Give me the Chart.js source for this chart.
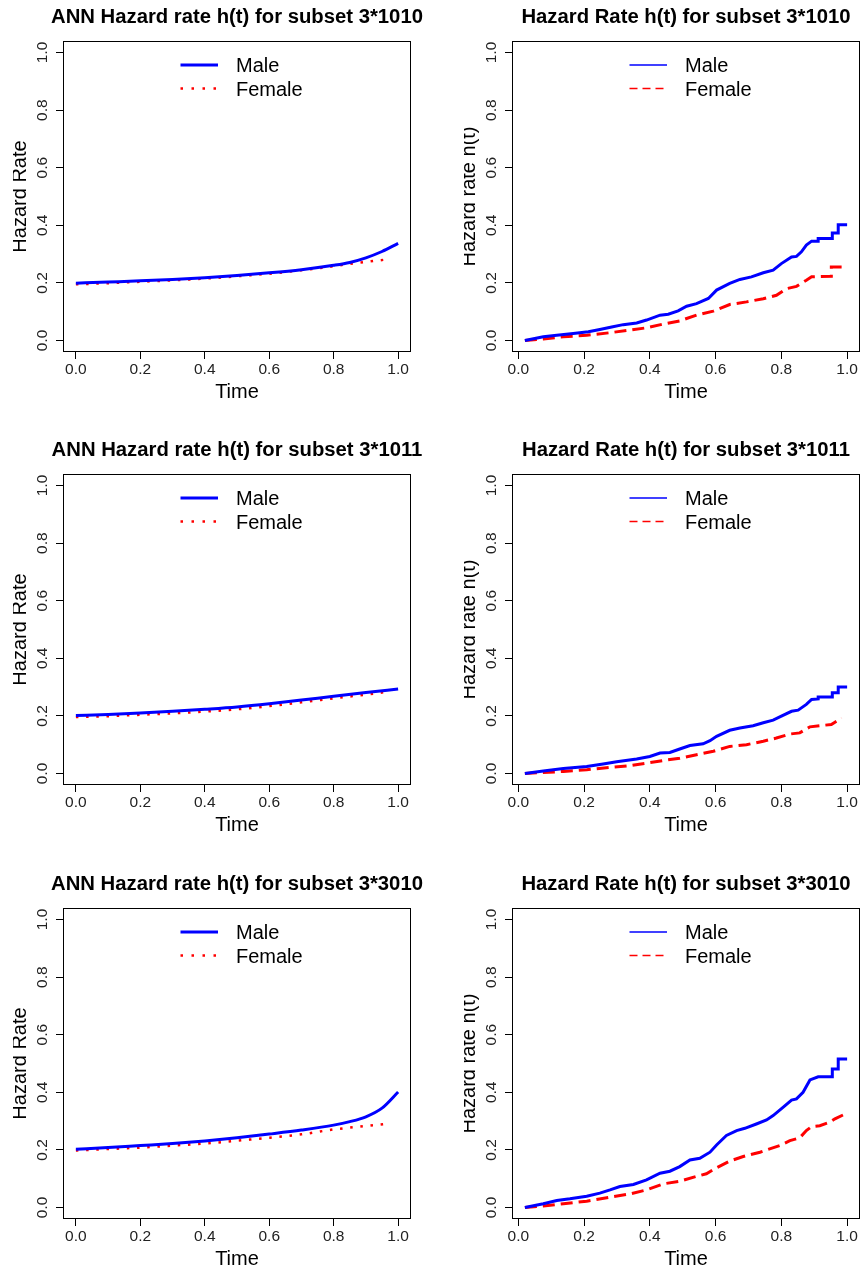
<!DOCTYPE html>
<html>
<head>
<meta charset="utf-8">
<script src="https://cdn.jsdelivr.net/npm/chart.js@4/dist/chart.umd.min.js"></script>
<style>
  html, body { margin: 0; padding: 0; background: #fff; }
  body { width: 861px; height: 1270px; overflow: hidden; position: relative; }
  canvas { position: absolute; }
</style>
</head>
<body>
<canvas id="c1"></canvas>
<canvas id="c2"></canvas>
<canvas id="c3"></canvas>
<canvas id="c4"></canvas>
<canvas id="c5"></canvas>
<canvas id="c6"></canvas>
<script>
// ---------- tick labels ----------
const xTickValues = [0.0, 0.2, 0.4, 0.6, 0.8, 1.0];
const yTickValues = [0.0, 0.2, 0.4, 0.6, 0.8, 1.0];
const seriesNames = ['Male', 'Female'];

// ---------- ANN hazard curves ----------
const ann1010MaleTime   = [0, 0.1, 0.2, 0.3, 0.4, 0.5, 0.6, 0.7, 0.8, 0.85, 0.9, 0.95, 1.0];
const ann1010Male       = [0.199, 0.203, 0.207, 0.212, 0.218, 0.226, 0.235, 0.246, 0.261, 0.271, 0.287, 0.309, 0.337];
const ann1010FemaleTime = [0, 0.1, 0.2, 0.3, 0.4, 0.5, 0.6, 0.7, 0.8, 0.85, 0.9, 0.97];
const ann1010Female     = [0.195, 0.199, 0.204, 0.209, 0.215, 0.223, 0.232, 0.244, 0.258, 0.266, 0.273, 0.282];

const ann1011MaleTime   = [0, 0.1, 0.2, 0.3, 0.4, 0.5, 0.6, 0.7, 0.8, 0.9, 1.0];
const ann1011Male       = [0.201, 0.205, 0.210, 0.216, 0.223, 0.231, 0.242, 0.255, 0.268, 0.281, 0.293];
const ann1011FemaleTime = [0, 0.1, 0.2, 0.3, 0.4, 0.5, 0.6, 0.7, 0.8, 0.9, 0.97];
const ann1011Female     = [0.196, 0.199, 0.204, 0.209, 0.215, 0.223, 0.234, 0.247, 0.261, 0.274, 0.284];

const ann3010MaleTime   = [0, 0.1, 0.2, 0.3, 0.4, 0.5, 0.6, 0.7, 0.8, 0.85, 0.9, 0.95, 1.0];
const ann3010Male       = [0.202, 0.208, 0.215, 0.222, 0.231, 0.242, 0.255, 0.269, 0.286, 0.298, 0.315, 0.345, 0.401];
const ann3010FemaleTime = [0, 0.1, 0.2, 0.3, 0.4, 0.5, 0.6, 0.7, 0.8, 0.9, 0.97];
const ann3010Female     = [0.198, 0.203, 0.208, 0.215, 0.222, 0.232, 0.242, 0.254, 0.271, 0.283, 0.291];

// ---------- empirical hazard (step) curves ----------
const emp1010MaleTime = [0.020,0.076,0.117,0.167,0.213,0.248,0.284,0.319,0.360,0.390,0.431,0.456,0.486,0.512,0.542,0.578,0.603,0.643,0.674,0.709,0.745,0.775,0.800,0.831,0.846,0.861,0.876,0.892,0.912,0.912,0.955,0.955,0.973,0.973,1.000];
const emp1010Male     = [0,0.013,0.018,0.024,0.030,0.038,0.047,0.055,0.061,0.071,0.088,0.091,0.103,0.119,0.128,0.146,0.175,0.198,0.212,0.221,0.235,0.244,0.267,0.290,0.292,0.308,0.331,0.345,0.345,0.354,0.354,0.373,0.373,0.402,0.402];
const emp1010FemaleTime = [0.020,0.076,0.137,0.208,0.279,0.339,0.390,0.441,0.491,0.542,0.593,0.643,0.694,0.745,0.785,0.816,0.846,0.876,0.892,0.952,0.952,1.000];
const emp1010Female     = [0,0.005,0.013,0.018,0.027,0.036,0.044,0.057,0.068,0.088,0.102,0.125,0.134,0.145,0.157,0.180,0.188,0.209,0.221,0.223,0.255,0.255];

const emp1011MaleTime = [0.020,0.076,0.137,0.208,0.258,0.299,0.360,0.400,0.431,0.461,0.491,0.522,0.562,0.583,0.603,0.643,0.674,0.714,0.745,0.775,0.800,0.831,0.851,0.876,0.892,0.912,0.912,0.955,0.955,0.973,0.973,1.000];
const emp1011Male     = [0,0.009,0.017,0.024,0.033,0.041,0.050,0.059,0.071,0.073,0.085,0.097,0.103,0.114,0.129,0.150,0.158,0.166,0.176,0.185,0.199,0.216,0.220,0.240,0.257,0.259,0.266,0.266,0.280,0.280,0.300,0.300];
const emp1011FemaleTime = [0.020,0.137,0.208,0.279,0.339,0.400,0.441,0.491,0.542,0.593,0.643,0.694,0.745,0.785,0.826,0.856,0.887,0.917,0.952,0.963,0.983];
const emp1011Female     = [0,0.007,0.013,0.021,0.027,0.038,0.045,0.053,0.065,0.077,0.094,0.100,0.112,0.123,0.137,0.141,0.162,0.166,0.170,0.178,0.193];

const emp3010MaleTime = [0.020,0.076,0.117,0.157,0.208,0.248,0.279,0.309,0.350,0.390,0.431,0.461,0.491,0.522,0.552,0.583,0.603,0.633,0.664,0.689,0.724,0.755,0.775,0.805,0.831,0.846,0.866,0.887,0.912,0.955,0.955,0.973,0.973,1.000];
const emp3010Male     = [0,0.013,0.024,0.030,0.039,0.050,0.061,0.073,0.080,0.096,0.119,0.126,0.142,0.165,0.171,0.192,0.217,0.250,0.267,0.275,0.290,0.304,0.319,0.348,0.373,0.377,0.400,0.443,0.454,0.454,0.481,0.481,0.516,0.516];
const emp3010FemaleTime = [0.020,0.076,0.137,0.208,0.279,0.339,0.390,0.441,0.491,0.542,0.572,0.603,0.643,0.684,0.735,0.795,0.826,0.856,0.876,0.892,0.917,0.947,0.963,1.000];
const emp3010Female     = [0,0.005,0.013,0.022,0.036,0.047,0.061,0.082,0.091,0.108,0.117,0.138,0.161,0.177,0.192,0.215,0.232,0.242,0.267,0.281,0.284,0.296,0.308,0.328];

// ---------- panel texts ----------
const panelTitles = [
  'ANN Hazard rate h(t) for subset 3*1010', 'Hazard Rate h(t) for subset 3*1010',
  'ANN Hazard rate h(t) for subset 3*1011', 'Hazard Rate h(t) for subset 3*1011',
  'ANN Hazard rate h(t) for subset 3*3010', 'Hazard Rate h(t) for subset 3*3010'
];
const yTitles = ['Hazard Rate', 'Hazard rate h(t)'];
const xTitle = 'Time';

// ---------- helpers ----------
const FONT = "'Liberation Sans', Arial, Helvetica, sans-serif";
Chart.defaults.font.family = FONT;
Chart.defaults.color = '#000';

function pts(t, v) { return t.map((x, i) => ({ x: x, y: v[i] })); }

const BLUE = '#0000FF', RED = '#FF0000';

function annSets(mt, mv, ft, fv) {
  return [
    { label: seriesNames[0], data: pts(mt, mv), borderColor: BLUE, borderWidth: 3,
      cubicInterpolationMode: 'monotone', legendWidth: 3, legendDash: [] },
    { label: seriesNames[1], data: pts(ft, fv), borderColor: RED, borderWidth: 2.5,
      borderDash: [2.5, 7.7], cubicInterpolationMode: 'monotone', legendWidth: 2.5, legendDash: [2.5, 8.5] }
  ];
}
function empSets(mt, mv, ft, fv) {
  return [
    { label: seriesNames[0], data: pts(mt, mv), borderColor: BLUE, borderWidth: 3,
      tension: 0, legendWidth: 1.6, legendDash: [] },
    { label: seriesNames[1], data: pts(ft, fv), borderColor: RED, borderWidth: 3,
      borderDash: [12, 6], tension: 0, legendWidth: 1.6, legendDash: [8, 5] }
  ];
}

const panelSets = [
  annSets(ann1010MaleTime, ann1010Male, ann1010FemaleTime, ann1010Female),
  empSets(emp1010MaleTime, emp1010Male, emp1010FemaleTime, emp1010Female),
  annSets(ann1011MaleTime, ann1011Male, ann1011FemaleTime, ann1011Female),
  empSets(emp1011MaleTime, emp1011Male, emp1011FemaleTime, emp1011Female),
  annSets(ann3010MaleTime, ann3010Male, ann3010FemaleTime, ann3010Female),
  empSets(emp3010MaleTime, emp3010Male, emp3010FemaleTime, emp3010Female)
];

// R-style plot furniture: box, title, axis titles, legend
const furniture = {
  id: 'furniture',
  afterDatasetsDraw(chart, args, o) {
    const ctx = chart.ctx, a = chart.chartArea;
    ctx.save();
    // box
    ctx.strokeStyle = '#000';
    ctx.lineWidth = 1;
    ctx.setLineDash([]);
    ctx.strokeRect(Math.round(a.left) + 0.5, Math.round(a.top) + 0.5,
                   Math.round(a.right - a.left) - 1, Math.round(a.bottom - a.top) - 1);
    const cx = (a.left + a.right) / 2, cy = (a.top + a.bottom) / 2;
    ctx.fillStyle = '#000';
    // main title
    ctx.font = 'bold 20.3px ' + FONT;
    ctx.textAlign = 'center';
    ctx.textBaseline = 'alphabetic';
    ctx.fillText(o.title, cx, a.top - 18);
    // x title
    ctx.font = '20px ' + FONT;
    ctx.fillText(xTitle, cx, a.bottom + 46);
    // y title
    ctx.save();
    ctx.translate(a.left - 37, cy);
    ctx.rotate(-Math.PI / 2);
    ctx.fillText(o.yTitle, 0, 0);
    ctx.restore();
    // legend
    chart.data.datasets.forEach((ds, i) => {
      const ly = a.top + 24 + i * 23.5;
      ctx.beginPath();
      ctx.strokeStyle = ds.borderColor;
      ctx.lineWidth = ds.legendWidth;
      ctx.setLineDash(ds.legendDash);
      ctx.moveTo(a.left + 117.5, ly);
      ctx.lineTo(a.left + 155, ly);
      ctx.stroke();
      ctx.setLineDash([]);
      ctx.font = '20px ' + FONT;
      ctx.textAlign = 'left';
      ctx.fillStyle = '#000';
      ctx.fillText(ds.label, a.left + 173, a.top + 30.7 + i * 24.3);
    });
    ctx.restore();
  }
};

const rowTops = [0, 433, 867];
const CANVAS_H = 433;

for (let p = 0; p < 6; p++) {
  const row = Math.floor(p / 2), col = p % 2;
  const canvas = document.getElementById('c' + (p + 1));
  const left = col === 0 ? 13 : 464;
  const width = col === 0 ? 417 : 397;
  canvas.width = width; canvas.height = CANVAS_H;
  canvas.style.left = left + 'px';
  canvas.style.top = rowTops[row] + 'px';
  canvas.style.width = width + 'px';
  canvas.style.height = CANVAS_H + 'px';

  const xr = col === 0 ? { min: -0.04, max: 1.04 } : { min: -0.0192, max: 1.0392 };
  const padL = col === 0 ? 10 : 8;
  const padR = col === 0 ? 19 : 1;

  new Chart(canvas, {
    type: 'line',
    data: { datasets: panelSets[p] },
    options: {
      responsive: false,
      animation: false,
      devicePixelRatio: 1,
      layout: { padding: { left: padL, right: padR, top: 41, bottom: 41 } },
      elements: { point: { radius: 0, hoverRadius: 0 }, line: { fill: false, borderCapStyle: 'butt' } },
      plugins: {
        legend: { display: false },
        tooltip: { enabled: false },
        furniture: { title: panelTitles[p], yTitle: yTitles[col] }
      },
      events: [],
      scales: {
        x: {
          type: 'linear', min: xr.min, max: xr.max,
          afterBuildTicks: s => { s.ticks = xTickValues.map(v => ({ value: v })); },
          afterFit: s => { s.height = 40; },
          border: { display: false },
          grid: { drawOnChartArea: false, drawTicks: true, tickLength: 7, color: '#000', tickColor: '#000', tickWidth: 1 },
          ticks: { padding: 1, color: '#222', font: { size: 15.5 }, maxRotation: 0, minRotation: 0, autoSkip: false,
                   callback: v => Number(v).toFixed(1) }
        },
        y: {
          type: 'linear', min: -0.04, max: 1.04,
          afterBuildTicks: s => { s.ticks = yTickValues.map(v => ({ value: v })); },
          afterFit: s => { s.width = 40; },
          border: { display: false },
          grid: { drawOnChartArea: false, drawTicks: true, tickLength: 7, color: '#000', tickColor: '#000', tickWidth: 1 },
          ticks: { padding: 2.5, color: '#222', font: { size: 15.5 }, minRotation: 90, maxRotation: 90,
                   crossAlign: 'center', autoSkip: false, callback: v => Number(v).toFixed(1) }
        }
      }
    },
    plugins: [furniture]
  });
}
</script>
</body>
</html>
